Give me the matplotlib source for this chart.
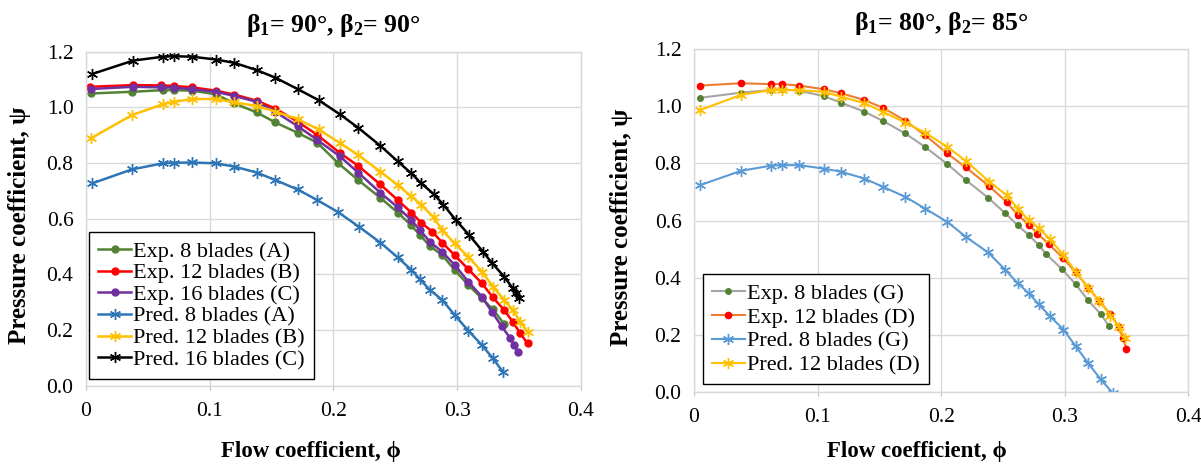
import numpy as np
import matplotlib.pyplot as plt

# ---- left panel: beta1 = 90, beta2 = 90 ----
phi_exp8_a = [0.004, 0.037, 0.062, 0.071, 0.086, 0.105, 0.120, 0.138, 0.153, 0.171, 0.187, 0.204,
              0.220, 0.238, 0.252, 0.263, 0.270, 0.278, 0.288, 0.298, 0.309, 0.320, 0.329, 0.338]
psi_exp8_a = [1.050, 1.056, 1.062, 1.062, 1.060, 1.047, 1.014, 0.982, 0.946, 0.909, 0.873, 0.799,
              0.739, 0.675, 0.622, 0.576, 0.541, 0.502, 0.469, 0.416, 0.362, 0.314, 0.274, 0.222]

phi_exp12_b = [0.003, 0.038, 0.061, 0.071, 0.086, 0.105, 0.120, 0.138, 0.153, 0.171, 0.187, 0.205, 0.220, 0.238,
               0.252, 0.263, 0.271, 0.280, 0.288, 0.298, 0.309, 0.320, 0.329, 0.338, 0.345, 0.351, 0.357]
psi_exp12_b = [1.074, 1.080, 1.079, 1.077, 1.072, 1.060, 1.046, 1.024, 0.996, 0.949, 0.901, 0.837, 0.790, 0.723,
               0.667, 0.622, 0.586, 0.553, 0.514, 0.469, 0.419, 0.368, 0.317, 0.272, 0.230, 0.188, 0.152]

phi_exp16_c = [0.004, 0.038, 0.061, 0.071, 0.086, 0.105, 0.120, 0.138, 0.153, 0.171, 0.187, 0.205, 0.220, 0.238,
               0.252, 0.263, 0.270, 0.278, 0.288, 0.298, 0.309, 0.320, 0.328, 0.336, 0.343, 0.346, 0.349]
psi_exp16_c = [1.066, 1.074, 1.072, 1.071, 1.065, 1.056, 1.041, 1.020, 0.984, 0.933, 0.883, 0.825, 0.766, 0.693,
               0.641, 0.595, 0.559, 0.517, 0.481, 0.434, 0.374, 0.320, 0.266, 0.214, 0.170, 0.146, 0.122]

phi_pred8_a = [0.005, 0.037, 0.062, 0.071, 0.086, 0.105, 0.120, 0.138, 0.153, 0.171, 0.187, 0.204,
               0.221, 0.238, 0.252, 0.263, 0.270, 0.278, 0.288, 0.298, 0.309, 0.320, 0.329, 0.337]
psi_pred8_a = [0.727, 0.777, 0.799, 0.801, 0.802, 0.799, 0.787, 0.766, 0.739, 0.705, 0.667, 0.623,
               0.570, 0.514, 0.461, 0.416, 0.382, 0.344, 0.308, 0.254, 0.198, 0.146, 0.098, 0.050]

phi_pred12_b = [0.004, 0.037, 0.062, 0.071, 0.086, 0.105, 0.120, 0.138, 0.153, 0.171, 0.188, 0.205, 0.220, 0.238,
                0.252, 0.263, 0.271, 0.281, 0.288, 0.298, 0.309, 0.320, 0.329, 0.338, 0.345, 0.351, 0.357]
psi_pred12_b = [0.889, 0.972, 1.011, 1.020, 1.030, 1.030, 1.018, 1.005, 0.985, 0.958, 0.921, 0.873, 0.829, 0.769,
                0.721, 0.680, 0.650, 0.605, 0.559, 0.511, 0.463, 0.410, 0.356, 0.308, 0.272, 0.230, 0.194]

phi_pred16_c = [0.005, 0.038, 0.062, 0.071, 0.086, 0.105, 0.120, 0.138, 0.153, 0.171, 0.188, 0.205, 0.220, 0.238,
                0.252, 0.263, 0.271, 0.281, 0.289, 0.299, 0.310, 0.321, 0.328, 0.338, 0.345, 0.348, 0.350]
psi_pred16_c = [1.120, 1.168, 1.182, 1.184, 1.182, 1.172, 1.160, 1.134, 1.107, 1.066, 1.026, 0.976, 0.927, 0.862,
                0.806, 0.763, 0.727, 0.689, 0.650, 0.595, 0.540, 0.481, 0.442, 0.392, 0.350, 0.332, 0.314]

# ---- right panel: beta1 = 80, beta2 = 85 ----
phi_exp8_g = [0.005, 0.038, 0.062, 0.071, 0.085, 0.105, 0.119, 0.138, 0.153, 0.171, 0.187, 0.205,
              0.220, 0.238, 0.252, 0.262, 0.271, 0.279, 0.285, 0.298, 0.309, 0.319, 0.329, 0.336]
psi_exp8_g = [1.030, 1.048, 1.057, 1.060, 1.055, 1.036, 1.013, 0.981, 0.949, 0.905, 0.858, 0.798,
              0.742, 0.680, 0.625, 0.583, 0.549, 0.514, 0.482, 0.429, 0.376, 0.320, 0.273, 0.229]

phi_exp12_d = [0.005, 0.038, 0.062, 0.071, 0.085, 0.105, 0.119, 0.138, 0.153, 0.171, 0.187, 0.205, 0.220, 0.239,
               0.253, 0.262, 0.271, 0.278, 0.287, 0.299, 0.309, 0.319, 0.328, 0.337, 0.344, 0.347, 0.350]
psi_exp12_d = [1.073, 1.081, 1.078, 1.078, 1.073, 1.060, 1.046, 1.022, 0.995, 0.950, 0.899, 0.835, 0.786, 0.720,
               0.665, 0.619, 0.586, 0.554, 0.518, 0.467, 0.418, 0.365, 0.318, 0.271, 0.227, 0.188, 0.151]

phi_pred8_g = [0.005, 0.038, 0.062, 0.071, 0.085, 0.105, 0.119, 0.138, 0.153, 0.171, 0.187, 0.205,
               0.220, 0.238, 0.252, 0.262, 0.271, 0.279, 0.288, 0.299, 0.309, 0.319, 0.329, 0.339]
psi_pred8_g = [0.724, 0.774, 0.792, 0.794, 0.794, 0.782, 0.771, 0.747, 0.718, 0.683, 0.642, 0.595,
               0.543, 0.488, 0.427, 0.380, 0.345, 0.306, 0.265, 0.218, 0.159, 0.100, 0.044, -0.005]

phi_pred12_d = [0.005, 0.038, 0.062, 0.071, 0.085, 0.105, 0.119, 0.138, 0.153, 0.171, 0.187, 0.205, 0.220,
                0.239, 0.253, 0.262, 0.271, 0.279, 0.288, 0.299, 0.309, 0.319, 0.328, 0.337, 0.344, 0.349]
psi_pred12_d = [0.987, 1.040, 1.057, 1.057, 1.057, 1.051, 1.034, 1.011, 0.981, 0.943, 0.908, 0.858, 0.809,
                0.736, 0.689, 0.642, 0.601, 0.574, 0.535, 0.479, 0.420, 0.365, 0.318, 0.267, 0.227, 0.188]

x_ticks = [0, 0.1, 0.2, 0.3, 0.4]
x_ticklabels = ["0", "0.1", "0.2", "0.3", "0.4"]
y_ticks = [0.0, 0.2, 0.4, 0.6, 0.8, 1.0, 1.2]

plt.rcParams["font.family"] = ["Liberation Serif", "DejaVu Serif"]
plt.rcParams["mathtext.fontset"] = "custom"
plt.rcParams["mathtext.rm"] = "Liberation Serif"
plt.rcParams["mathtext.bf"] = "Liberation Serif:bold"

STAR = (6, 2, 0)
FS = 15.5
GRID = "#d9d9d9"

fig = plt.figure(figsize=(12.01, 4.66), dpi=100)
ax1 = fig.add_axes([0.0716, 0.1723, 0.412, 0.7167])
ax2 = fig.add_axes([0.5778, 0.1594, 0.4116, 0.7348])


def style(ax, title, xlab_pos, ylab_pos):
    ax.set_xlim(0, 0.4)
    ax.set_ylim(0, 1.2)
    ax.set_xticks(x_ticks)
    ax.set_xticklabels(x_ticklabels)
    ax.set_yticks(y_ticks)
    ax.set_yticklabels([f"{v:.1f}" for v in y_ticks])
    ax.grid(True, color=GRID, linewidth=1)
    ax.set_axisbelow(True)
    for s in ax.spines.values():
        s.set_color(GRID)
        s.set_linewidth(1)
    ax.tick_params(axis="y", length=0, pad=9, labelsize=FS)
    ax.tick_params(axis="x", length=3, color="#bfbfbf", pad=9, labelsize=FS)
    ax.set_xlabel("Flow coefficient, ϕ", fontweight="bold", fontsize=16.5, va="center")
    ax.xaxis.set_label_coords(*xlab_pos)
    ax.set_ylabel("Pressure coefficient, ψ", fontweight="bold", fontsize=18, va="center")
    ax.yaxis.set_label_coords(*ylab_pos)
    ax.set_title(title, fontweight="bold", fontsize=18.5, pad=14)


# left
ax1.plot(phi_exp8_a, psi_exp8_a, color="#548235", marker="o", ms=5, lw=1.8, label="Exp. 8 blades (A)")
ax1.plot(phi_exp12_b, psi_exp12_b, color="#ff0000", marker="o", ms=5, lw=1.8, label="Exp. 12 blades (B)")
ax1.plot(phi_exp16_c, psi_exp16_c, color="#7030a0", marker="o", ms=5, lw=1.8, label="Exp. 16 blades (C)")
ax1.plot(phi_pred8_a, psi_pred8_a, color="#2e75b6", marker=STAR, ms=8, mew=1, lw=1.8, label="Pred. 8 blades (A)")
ax1.plot(phi_pred12_b, psi_pred12_b, color="#ffc000", marker=STAR, ms=8, mew=1, lw=1.8, label="Pred. 12 blades (B)")
ax1.plot(phi_pred16_c, psi_pred16_c, color="#000000", marker=STAR, ms=8, mew=1, lw=1.8, label="Pred. 16 blades (C)")
style(ax1, r"$\mathregular{β_1}$= 90°, $\mathregular{β_2}$= 90°", (0.455, -0.198), (-0.1334, 0.48))

# right
ax2.plot(phi_exp8_g, psi_exp8_g, color="#a5a5a5", marker="o", ms=4, mfc="#548235", mec="#548235",
         lw=1.5, label="Exp. 8 blades (G)")
ax2.plot(phi_exp12_d, psi_exp12_d, color="#ed7d31", marker="o", ms=4.5, mfc="#ff0000", mec="#ff0000",
         lw=1.5, label="Exp. 12 blades (D)")
ax2.plot(phi_pred8_g, psi_pred8_g, color="#5b9bd5", marker=STAR, ms=8, mew=1, lw=1.5, label="Pred. 8 blades (G)")
ax2.plot(phi_pred12_d, psi_pred12_d, color="#ffc000", marker=STAR, ms=8, mew=1, lw=1.5, label="Pred. 12 blades (D)")
style(ax2, r"$\mathregular{β_1}$= 80°, $\mathregular{β_2}$= 85°", (0.451, -0.175), (-0.1457, 0.48))

for ax, dx, dy, sp in [(ax1, 0.006, 0.02, 0.05), (ax2, 0.018, 0.022, 0.15)]:
    leg = ax.legend(loc="lower left", bbox_to_anchor=(dx, dy), borderaxespad=0, fontsize=16,
                    frameon=True, fancybox=False, framealpha=1, edgecolor="black",
                    handlelength=1.5, handletextpad=0.1, labelspacing=sp, borderpad=0.4)
    leg.get_frame().set_linewidth(1)

fig.savefig("out.png", dpi=100)
